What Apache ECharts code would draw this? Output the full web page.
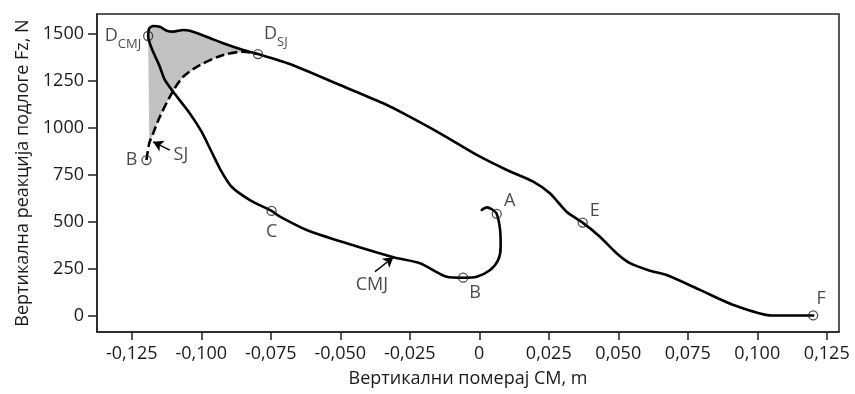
<!DOCTYPE html>
<html><head><meta charset="utf-8">
<script src="https://cdn.jsdelivr.net/npm/echarts@6/dist/echarts.min.js"></script>
<style>html,body{margin:0;padding:0;background:#fff}#c{width:855px;height:394px}</style>
</head><body><div id="c"></div>
<script>
// CMJ force–displacement loop (solid), from A through B, C, D_CMJ, D_SJ, E to F
const cmjX = [0.0009, 0.0027, 0.0045, 0.0063, 0.0075, 0.0077, 0.0068, 0.0039, -0.0009, -0.0058,
  -0.0117, -0.0213, -0.0309, -0.0477, -0.0621, -0.0717, -0.0747, -0.0825, -0.0891, -0.0927,
  -0.0963, -0.0999, -0.1041, -0.1101, -0.1131, -0.1149, -0.1191, -0.1187, -0.1173, -0.1149,
  -0.1124, -0.1101, -0.1065, -0.1041, -0.0981, -0.0921, -0.0849, -0.0796, -0.0681, -0.0501,
  -0.0345, -0.0261, -0.0141, -0.0009, 0.0099, 0.0194, 0.0254, 0.0314, 0.0372, 0.0434,
  0.0494, 0.0542, 0.0614, 0.0674, 0.0794, 0.0914, 0.1052, 0.1201];
const cmjY = [561, 575, 565, 540, 455, 366, 295, 242, 206, 201,
  206, 278, 310, 384, 455, 526, 556, 614, 685, 765,
  871, 978, 1075, 1190, 1253, 1323, 1487, 1528, 1540, 1536,
  1515, 1510, 1519, 1515, 1483, 1448, 1412, 1391, 1338, 1226,
  1129, 1066, 969, 854, 774, 712, 650, 552, 494, 419,
  331, 278, 238, 215, 136, 56, 0, 0];
const cmjDIndex = 26;   // D_CMJ
const sjDIndex = 37;    // D_SJ on the CMJ curve

// SJ curve (dashed), from B up to D_SJ
const sjX = [-0.1197, -0.1187, -0.1173, -0.1149, -0.1106, -0.1065, -0.1005, -0.0921, -0.0849, -0.0796];
const sjY = [827, 916, 969, 1057, 1182, 1270, 1332, 1386, 1403, 1391];

// labelled points
const markerNames = ['A', 'B', 'C', 'DCMJ', 'DSJ', 'E', 'F', 'BSJ'];
const markerX = [0.0063, -0.0058, -0.0747, -0.1191, -0.0796, 0.0372, 0.1201, -0.1197];
const markerY = [540, 201, 556, 1487, 1391, 494, 0, 827];

// curve names with arrows
const noteNames = ['SJ', 'CMJ'];
const noteX = [-0.1073, -0.0386];
const noteY = [854, 162];
const arrowFromX = [-0.1113, -0.0375];
const arrowFromY = [880, 233];
const arrowToX = [-0.1173, -0.0309];
const arrowToY = [924, 310];

const xTicks = [-0.125, -0.1, -0.075, -0.05, -0.025, 0, 0.025, 0.05, 0.075, 0.1, 0.125];
const yTicks = [0, 250, 500, 750, 1000, 1250, 1500];

const FONT = 'Open Sans';
const TXT = '#1a1a1a';

// styles for labels (not data)
const labelStyle = {
  A:    {offset: [13, -13]},
  B:    {offset: [12, 15]},
  C:    {offset: [0, 21]},
  DCMJ: {align: 'right', offset: [-7, 6], formatter: '{d|D}{s|CMJ}'},
  DSJ:  {align: 'left', offset: [6, -14], formatter: '{d|D}{s|SJ}'},
  E:    {offset: [12, -12]},
  F:    {offset: [8, -17]},
  BSJ:  {offset: [-15, 0], formatter: 'B'}
};
const rich = {
  d: {fontFamily: FONT, fontSize: 18, color: TXT, lineHeight: 18, padding: [0, 0, 6, 0], verticalAlign: 'bottom'},
  s: {fontFamily: FONT, fontSize: 13, color: TXT, lineHeight: 13, verticalAlign: 'bottom'}
};

const cmjData = cmjX.map((x, i) => [x, cmjY[i]]);
const sjData = sjX.map((x, i) => [x, sjY[i]]);

// shaded region: CMJ top from D_CMJ to D_SJ, back along SJ curve
const shadePts = [];
for (let i = cmjDIndex; i <= sjDIndex; i++) shadePts.push([cmjX[i], cmjY[i]]);
for (let i = sjX.length - 2; i >= 1; i--) shadePts.push([sjX[i], sjY[i]]);

const markerData = markerNames.map((n, i) => {
  const st = labelStyle[n];
  return {
    value: [markerX[i], markerY[i]],
    label: {
      show: true, position: 'inside',
      align: st.align || 'center', verticalAlign: 'middle',
      offset: st.offset,
      formatter: st.formatter || n,
      fontFamily: FONT, fontSize: 18, color: TXT, rich: rich
    }
  };
});
const noteData = noteNames.map((n, i) => ({
  value: [noteX[i], noteY[i]],
  label: {show: true, position: 'inside', formatter: n, fontFamily: FONT, fontSize: 18, color: TXT}
}));
const arrowData = noteNames.map((n, i) => [
  {coord: [arrowFromX[i], arrowFromY[i]]},
  {coord: [arrowToX[i], arrowToY[i]]}
]);

const fmtX = v => Math.abs(v) < 1e-9 ? '0' : v.toFixed(3).replace('.', ',');
const fmtY = v => String(Math.round(v));

const chart = echarts.init(document.getElementById('c'), null, {renderer: 'canvas'});
chart.setOption({
  animation: false,
  backgroundColor: '#fff',
  grid: {left: 97, right: 16, top: 14, bottom: 62, show: true, borderColor: '#222', borderWidth: 1.5, backgroundColor: 'transparent'},
  xAxis: {
    type: 'value', min: -0.1375, max: 0.1294,
    name: 'Вертикални померај CM, m', nameLocation: 'middle', nameGap: 38,
    nameTextStyle: {fontFamily: FONT, fontSize: 18, color: TXT},
    axisLine: {show: true, onZero: false, lineStyle: {color: '#222', width: 1.5}},
    axisTick: {show: true, length: 8, customValues: xTicks, lineStyle: {color: '#222', width: 1.5}},
    axisLabel: {customValues: xTicks, formatter: fmtX, margin: 13, fontFamily: FONT, fontSize: 18, color: TXT},
    splitLine: {show: false}
  },
  yAxis: {
    type: 'value', min: -88, max: 1604,
    name: 'Вертикална реакција подлоге Fz, N', nameLocation: 'middle', nameGap: 62,
    nameTextStyle: {fontFamily: FONT, fontSize: 18, color: TXT},
    axisLine: {show: true, onZero: false, lineStyle: {color: '#222', width: 1.5}},
    axisTick: {show: true, length: 9, customValues: yTicks, lineStyle: {color: '#222', width: 1.5}},
    axisLabel: {customValues: yTicks, formatter: fmtY, margin: 13, fontFamily: FONT, fontSize: 18, color: TXT},
    splitLine: {show: false}
  },
  series: [
    {
      type: 'custom', z: 1, silent: true,
      data: [shadePts[0]],
      renderItem: function (params, api) {
        return {
          type: 'polygon',
          shape: {points: shadePts.map(p => api.coord(p))},
          style: {fill: '#c2c2c2', stroke: 'none'}
        };
      }
    },
    {
      type: 'line', z: 3, data: cmjData, showSymbol: false, smooth: 0.25,
      lineStyle: {color: '#000', width: 2.6, cap: 'round', join: 'round'}
    },
    {
      type: 'line', z: 3, data: sjData, showSymbol: false, smooth: 0.3,
      lineStyle: {color: '#000', width: 2.6, type: [9, 4]}
    },
    {
      type: 'scatter', z: 5, data: markerData, symbol: 'circle', symbolSize: 9,
      itemStyle: {color: 'rgba(0,0,0,0)', borderColor: '#222', borderWidth: 1.3}
    },
    {
      type: 'scatter', z: 5, data: noteData, symbolSize: 0,
      markLine: {
        silent: true, symbol: ['none', 'arrow'], symbolSize: [9, 10],
        label: {show: false},
        lineStyle: {color: '#000', width: 1.4, type: 'solid'},
        data: arrowData
      }
    }
  ]
});
</script></body></html>
